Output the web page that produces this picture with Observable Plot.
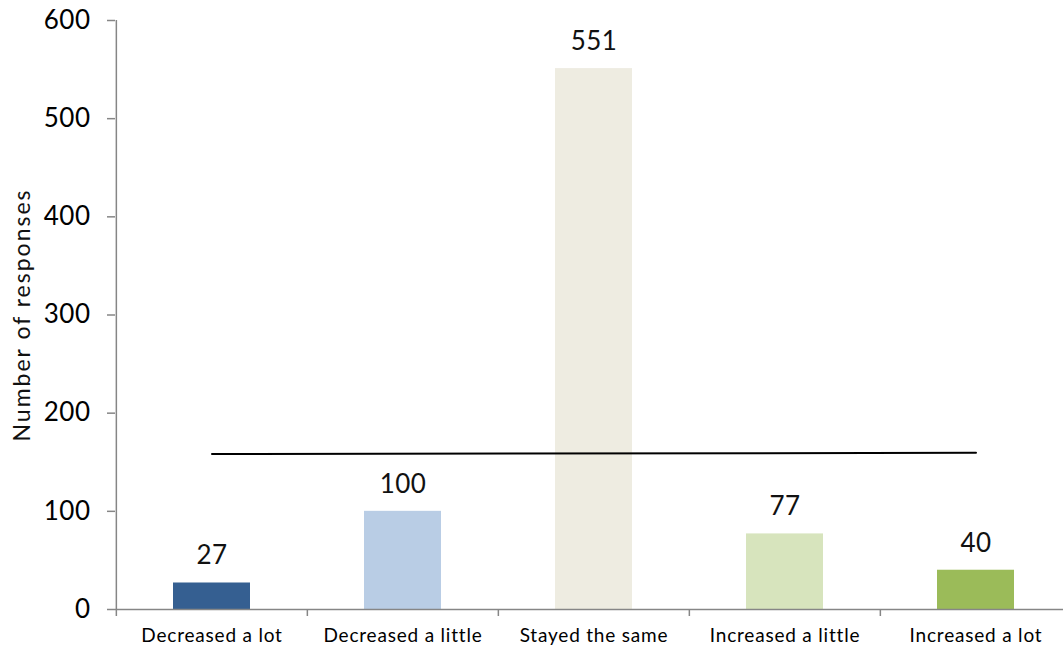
<!DOCTYPE html>
<html>
<head>
<meta charset="utf-8">
<script src="https://cdn.jsdelivr.net/npm/d3@7"></script>
<script src="https://cdn.jsdelivr.net/npm/@observablehq/plot@0.6"></script>
<style>
  html, body { margin: 0; padding: 0; background: #fff; }
  #chart { width: 1063px; height: 650px; overflow: hidden; }
  .xlab text { letter-spacing: 0.8px; }
  .ylab text { letter-spacing: 0.5px; }
  .ytitle text { letter-spacing: 2px; }
  .vlab text { letter-spacing: 0.5px; }
</style>
</head>
<body>
<div id="chart"></div>
<script>
const categories = ["Decreased a lot", "Decreased a little", "Stayed the same", "Increased a little", "Increased a lot"];
const values = [27, 100, 551, 77, 40];
const barColors = ["#355F91", "#B9CDE5", "#EEECE1", "#D7E4BD", "#9BBB59"];
const yTicks = [0, 100, 200, 300, 400, 500, 600];
const trendEnds = [158.4, 159.6];
const yTitle = "Number of responses";

const data = categories.map((c, i) => ({category: c, value: values[i], color: barColors[i]}));
const trendData = [
  {category: categories[0], value: trendEnds[0]},
  {category: categories[categories.length - 1], value: trendEnds[1]}
];

const W = 1063, H = 650;
const mLeft = 115, mTop = 20, mBottom = 41;
const xRight = 1071.5;
const step = (xRight - mLeft) / categories.length;
const plotH = H - mTop - mBottom;
const grey = "#868686";
const font = "Lato, 'DejaVu Sans', sans-serif";

const chart = Plot.plot({
  width: W,
  height: H,
  marginLeft: mLeft,
  marginTop: mTop,
  marginBottom: mBottom,
  marginRight: 0,
  style: {fontFamily: font, color: "#000", background: "#fff", overflow: "visible"},
  x: {domain: categories, range: [mLeft, xRight], padding: 0},
  y: {domain: [0, 600], range: [H - mBottom, mTop]},
  marks: [
    Plot.barY(data, {x: "category", y: "value", fill: "color", insetLeft: 57, insetRight: 57}),
    Plot.ruleY([0], {stroke: grey, strokeWidth: 1.5}),
    Plot.tickX([categories[0]], {x: d => d, dx: -step / 2, stroke: grey, strokeWidth: 1.5, insetBottom: -7}),
    Plot.tickX(categories.slice(1), {x: d => d, dx: -step / 2, stroke: grey, strokeWidth: 1.5, insetTop: plotH, insetBottom: -7}),
    Plot.axisY({ticks: yTicks, tickSize: 8, tickPadding: 17, fontSize: 26, stroke: grey, strokeWidth: 1.5, tickFormat: d => String(d), label: null, className: "ylab"}),
    Plot.axisX({tickSize: 0, tickPadding: 19, fontSize: 19, label: null, className: "xlab"}),
    Plot.line(trendData, {x: "category", y: "value", stroke: "#000", strokeWidth: 2}),
    Plot.text(data, {x: "category", y: "value", text: d => String(d.value), fontSize: 26, dy: -27, fill: "#111", className: "vlab"}),
    Plot.text([yTitle], {frameAnchor: "left", textAnchor: "middle", dx: -93, rotate: -90, fontSize: 23, fill: "#111", className: "ytitle"})
  ]
});
document.getElementById("chart").appendChild(chart);
</script>
</body>
</html>
